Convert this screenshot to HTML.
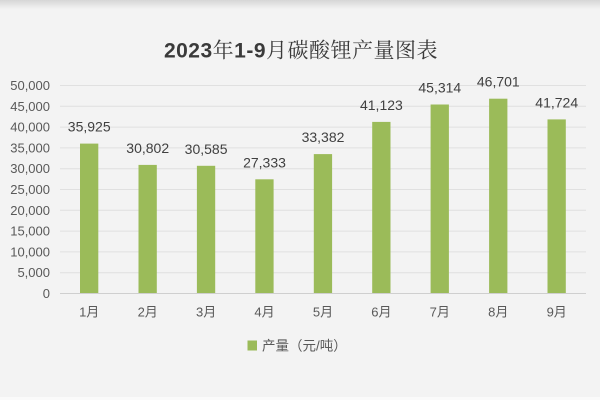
<!DOCTYPE html>
<html><head><meta charset="utf-8"><style>
html,body{margin:0;padding:0;}
body{width:600px;height:400px;overflow:hidden;background:#f3f3f3;}
svg{display:block;}
</style></head><body>
<svg width="600" height="400" viewBox="0 0 600 400" xmlns="http://www.w3.org/2000/svg">
<defs>
<linearGradient id="tg" x1="0" y1="0" x2="0" y2="1">
<stop offset="0" stop-color="#d6d6d6"/>
<stop offset="1" stop-color="#f3f3f3"/>
</linearGradient>
</defs>
<rect x="0" y="0" width="600" height="400" fill="#f3f3f3"/>
<rect x="0" y="0" width="600" height="9" fill="url(#tg)"/>
<rect x="0" y="397" width="600" height="3" fill="#fafafa"/>
<text x="301" y="57.5" text-anchor="middle" font-family="'Liberation Sans','Noto Serif CJK SC',serif" font-size="21" letter-spacing="0.5" fill="#3a3a3a"><tspan font-weight="bold">2023</tspan><tspan>年</tspan><tspan font-weight="bold">1-9</tspan><tspan>月碳酸锂产量图表</tspan></text>
<g stroke="#e0e0e0" stroke-width="1">
<line x1="60" y1="85.5" x2="586" y2="85.5"/>
<line x1="60" y1="106.3" x2="586" y2="106.3"/>
<line x1="60" y1="127.1" x2="586" y2="127.1"/>
<line x1="60" y1="147.9" x2="586" y2="147.9"/>
<line x1="60" y1="168.7" x2="586" y2="168.7"/>
<line x1="60" y1="189.5" x2="586" y2="189.5"/>
<line x1="60" y1="210.3" x2="586" y2="210.3"/>
<line x1="60" y1="231.1" x2="586" y2="231.1"/>
<line x1="60" y1="251.9" x2="586" y2="251.9"/>
<line x1="60" y1="272.7" x2="586" y2="272.7"/>
</g>
<line x1="60" y1="293.5" x2="586" y2="293.5" stroke="#cfcfcf" stroke-width="1"/>
<g font-family="'Liberation Sans',sans-serif" font-size="13" fill="#595959" text-anchor="end">
<text x="50" y="90">50,000</text>
<text x="50" y="110.8">45,000</text>
<text x="50" y="131.6">40,000</text>
<text x="50" y="152.4">35,000</text>
<text x="50" y="173.2">30,000</text>
<text x="50" y="194">25,000</text>
<text x="50" y="214.8">20,000</text>
<text x="50" y="235.6">15,000</text>
<text x="50" y="256.4">10,000</text>
<text x="50" y="277.2">5,000</text>
<text x="50" y="298">0</text>
</g>
<g fill="#9bbb59">
<rect x="80" y="143.6" width="18.3" height="149.4"/>
<rect x="138.5" y="164.9" width="18.3" height="128.1"/>
<rect x="196.9" y="165.8" width="18.3" height="127.2"/>
<rect x="255.3" y="179.3" width="18.3" height="113.7"/>
<rect x="313.8" y="154.1" width="18.3" height="138.9"/>
<rect x="372.2" y="121.9" width="18.3" height="171.1"/>
<rect x="430.6" y="104.5" width="18.3" height="188.5"/>
<rect x="489.1" y="98.7" width="18.3" height="194.3"/>
<rect x="547.5" y="119.4" width="18.3" height="173.6"/>
</g>
<g font-family="'Liberation Sans',sans-serif" font-size="14" fill="#404040" text-anchor="middle">
<text x="89.2" y="131.6">35,925</text>
<text x="147.7" y="152.9">30,802</text>
<text x="206.1" y="153.8">30,585</text>
<text x="264.5" y="167.3">27,333</text>
<text x="323" y="142.1">33,382</text>
<text x="381.4" y="109.9">41,123</text>
<text x="439.8" y="92.5">45,314</text>
<text x="498.3" y="86.7">46,701</text>
<text x="556.7" y="107.4">41,724</text>
</g>
<g font-family="'Liberation Sans','Noto Sans CJK SC',sans-serif" font-size="13" fill="#595959" text-anchor="middle">
<text x="89.2" y="316.5">1月</text>
<text x="147.7" y="316.5">2月</text>
<text x="206.1" y="316.5">3月</text>
<text x="264.5" y="316.5">4月</text>
<text x="323" y="316.5">5月</text>
<text x="381.4" y="316.5">6月</text>
<text x="439.8" y="316.5">7月</text>
<text x="498.3" y="316.5">8月</text>
<text x="556.7" y="316.5">9月</text>
</g>
<rect x="247.5" y="340.5" width="9.5" height="10" fill="#9bbb59"/>
<text x="262" y="350.5" font-family="'Liberation Sans','Noto Sans CJK SC',sans-serif" font-size="13.5" fill="#595959">产量（元/吨）</text>
</svg>
</body></html>
